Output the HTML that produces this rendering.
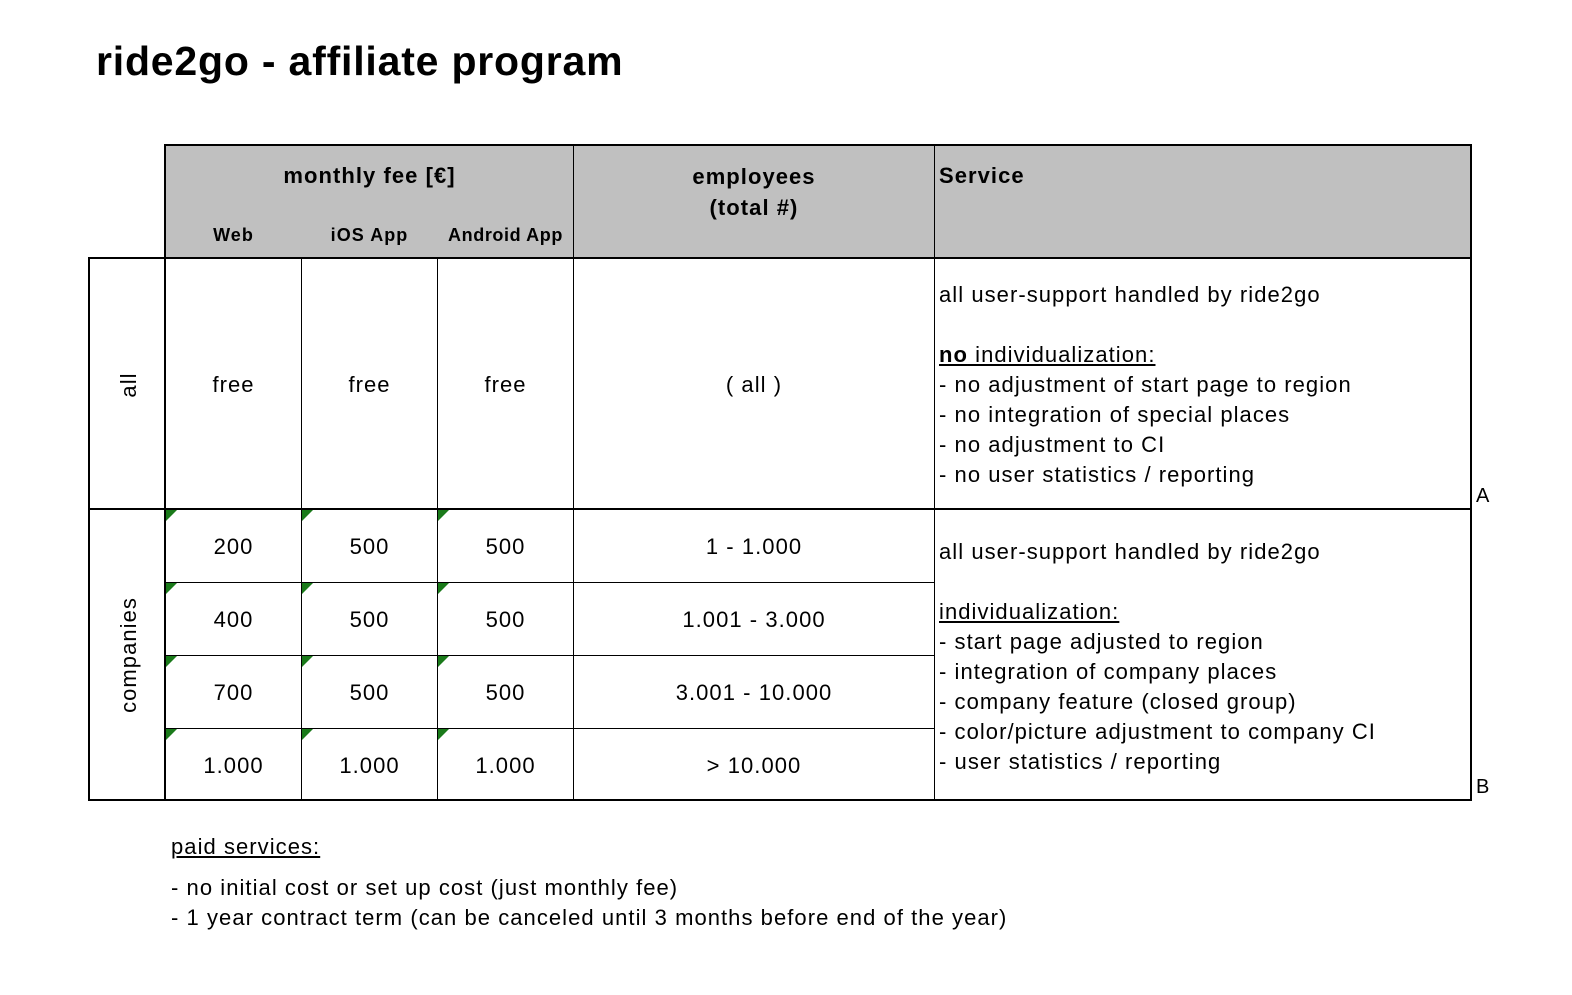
<!DOCTYPE html>
<html><head><meta charset="utf-8"><style>
body{margin:0;width:1572px;height:995px;background:#fff;position:relative;font-family:"Liberation Sans",Arial,sans-serif;color:#000;overflow:hidden}
.a{position:absolute}
.h{position:absolute;background:#000}
.t{position:absolute;font-size:22px;line-height:30px;white-space:nowrap;letter-spacing:1.05px}
.c{text-align:center}
.g{position:absolute;width:0;height:0;border-top:11px solid #1a7a1a;border-right:11px solid transparent}
</style></head><body>
<div class="t" style="left:96px;top:36px;font-size:41px;font-weight:bold;line-height:50px;letter-spacing:0.8px">ride2go - affiliate program</div>

<div class="a" style="left:165px;top:145px;width:1306px;height:113px;background:#c0c0c0"></div>
<div class="h" style="left:164px;top:144px;width:1308px;height:2px"></div>
<div class="h" style="left:88px;top:257px;width:1384px;height:2px"></div>
<div class="h" style="left:88px;top:508px;width:1384px;height:2px"></div>
<div class="h" style="left:88px;top:799px;width:1384px;height:2px"></div>
<div class="h" style="left:165px;top:582px;width:769px;height:1px"></div>
<div class="h" style="left:165px;top:655px;width:769px;height:1px"></div>
<div class="h" style="left:165px;top:728px;width:769px;height:1px"></div>
<div class="h" style="left:88px;top:257px;width:2px;height:544px"></div>
<div class="h" style="left:164px;top:144px;width:2px;height:657px"></div>
<div class="h" style="left:1470px;top:144px;width:2px;height:657px"></div>
<div class="h" style="left:301px;top:258px;width:1px;height:542px"></div>
<div class="h" style="left:437px;top:258px;width:1px;height:542px"></div>
<div class="h" style="left:573px;top:145px;width:1px;height:655px"></div>
<div class="h" style="left:934px;top:145px;width:1px;height:655px"></div>

<div class="t c" style="left:166px;top:161px;width:407px;font-weight:bold">monthly fee [€]</div>
<div class="t c" style="left:166px;top:220px;width:135px;font-weight:bold;font-size:18px">Web</div>
<div class="t c" style="left:302px;top:220px;width:135px;font-weight:bold;font-size:18px">iOS App</div>
<div class="t c" style="left:438px;top:220px;width:135px;font-weight:bold;font-size:18px;letter-spacing:0.6px">Android App</div>
<div class="t c" style="left:574px;top:161px;width:360px;font-weight:bold;line-height:31px">employees<br>(total #)</div>
<div class="t" style="left:939px;top:161px;font-weight:bold">Service</div>

<div class="t c" style="left:29px;top:370px;width:200px;transform:rotate(-90deg)">all</div>
<div class="t c" style="left:29px;top:640px;width:200px;transform:rotate(-90deg)">companies</div>

<div class="t c" style="left:166px;top:370px;width:135px">free</div>
<div class="t c" style="left:302px;top:370px;width:135px">free</div>
<div class="t c" style="left:438px;top:370px;width:135px">free</div>
<div class="t c" style="left:574px;top:370px;width:360px">( all )</div>
<div class="t" style="left:939px;top:280px">all user-support handled by ride2go<br><br><u><b>no</b> individualization:</u><br>- no adjustment of start page to region<br>- no integration of special places<br>- no adjustment to CI<br>- no user statistics / reporting</div>
<div class="t" style="left:1476px;top:481px;font-size:20px">A</div>

<div class="t c" style="left:166px;top:532px;width:135px">200</div>
<div class="t c" style="left:302px;top:532px;width:135px">500</div>
<div class="t c" style="left:438px;top:532px;width:135px">500</div>
<div class="t c" style="left:574px;top:532px;width:360px">1 - 1.000</div>
<div class="t c" style="left:166px;top:605px;width:135px">400</div>
<div class="t c" style="left:302px;top:605px;width:135px">500</div>
<div class="t c" style="left:438px;top:605px;width:135px">500</div>
<div class="t c" style="left:574px;top:605px;width:360px">1.001 - 3.000</div>
<div class="t c" style="left:166px;top:678px;width:135px">700</div>
<div class="t c" style="left:302px;top:678px;width:135px">500</div>
<div class="t c" style="left:438px;top:678px;width:135px">500</div>
<div class="t c" style="left:574px;top:678px;width:360px">3.001 - 10.000</div>
<div class="t c" style="left:166px;top:751px;width:135px">1.000</div>
<div class="t c" style="left:302px;top:751px;width:135px">1.000</div>
<div class="t c" style="left:438px;top:751px;width:135px">1.000</div>
<div class="t c" style="left:574px;top:751px;width:360px">&gt; 10.000</div>
<div class="t" style="left:939px;top:537px">all user-support handled by ride2go<br><br><u>individualization:</u><br>- start page adjusted to region<br>- integration of company places<br>- company feature (closed group)<br>- color/picture adjustment to company CI<br>- user statistics / reporting</div>
<div class="t" style="left:1476px;top:772px;font-size:20px">B</div>

<div class="g" style="left:166px;top:510px"></div><div class="g" style="left:302px;top:510px"></div><div class="g" style="left:438px;top:510px"></div>
<div class="g" style="left:166px;top:583px"></div><div class="g" style="left:302px;top:583px"></div><div class="g" style="left:438px;top:583px"></div>
<div class="g" style="left:166px;top:656px"></div><div class="g" style="left:302px;top:656px"></div><div class="g" style="left:438px;top:656px"></div>
<div class="g" style="left:166px;top:729px"></div><div class="g" style="left:302px;top:729px"></div><div class="g" style="left:438px;top:729px"></div>

<div class="t" style="left:171px;top:832px"><u>paid services:</u></div>
<div class="t" style="left:171px;top:873px">- no initial cost or set up cost (just monthly fee)<br>- 1 year contract term (can be canceled until 3 months before end of the year)</div>
</body></html>
